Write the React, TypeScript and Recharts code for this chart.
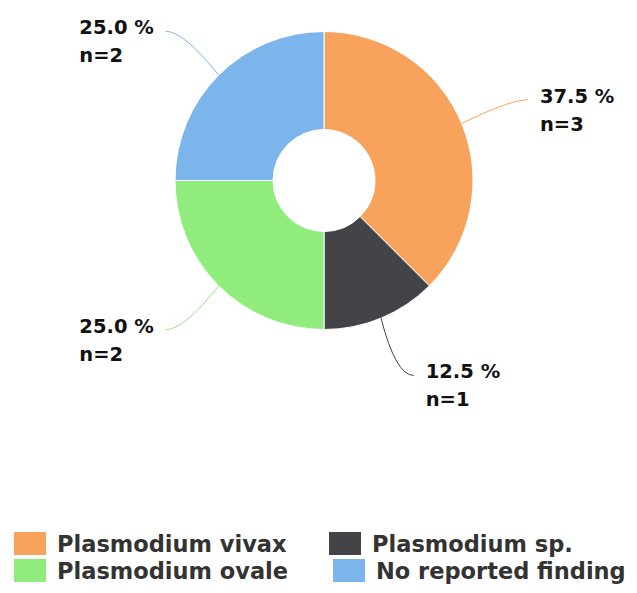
import React from "react";
import { PieChart, Pie, Cell, Legend } from "recharts";

const species = [
  "Plasmodium vivax",
  "Plasmodium sp.",
  "Plasmodium ovale",
  "No reported finding",
];
const counts = [3, 1, 2, 2];
const colors = ["#F7A35C", "#434348", "#90ED7D", "#7CB5EC"];

const data = species.map((name, i) => ({ name, value: counts[i] }));

const FONT = "'DejaVu Sans', Verdana, sans-serif";
const RAD = Math.PI / 180;
const LABEL_SIZE = 19.5;

// rough DejaVu Sans Bold advance widths (em) for the label glyphs
const glyphW: Record<string, number> = {
  ".": 0.38,
  " ": 0.348,
  "%": 1.002,
  n: 0.712,
  "=": 0.838,
};
const textWidth = (t: string) =>
  t.split("").reduce((w, ch) => w + (glyphW[ch] ?? 0.696), 0) * LABEL_SIZE;

// outside label with a curved connector, placed like the original
const renderLabel = (props: any) => {
  const { cx, cy, midAngle, outerRadius, percent, value, index } = props;
  const c = Math.cos(midAngle * RAD);
  const s = Math.sin(midAngle * RAD);
  const sign = c >= 0 ? 1 : -1;
  const x0 = cx + outerRadius * c;
  const y0 = cy - outerRadius * s;
  const R = outerRadius + 62;
  const ex = cx + R * c + sign * 9;
  const ey = cy - R * s;
  const line1 = `${(percent * 100).toFixed(1)} %`;
  const line2 = `n=${value}`;
  const boxW = Math.max(textWidth(line1), textWidth(line2));
  // lines are left aligned inside the label box
  const tx = sign > 0 ? ex + 12 : ex - 12 - boxW;
  const color = colors[index % colors.length];
  return (
    <g>
      <path
        d={`M${x0},${y0} Q${ex - sign * 18},${ey} ${ex},${ey}`}
        stroke={color}
        strokeWidth={1}
        fill="none"
      />
      <text
        x={tx}
        y={ey + 3}
        textAnchor="start"
        fontFamily={FONT}
        fontWeight="bold"
        fontSize={LABEL_SIZE}
        fill="#111"
      >
        <tspan x={tx}>{line1}</tspan>
        <tspan x={tx} dy={28}>
          {line2}
        </tspan>
      </text>
    </g>
  );
};

const renderLegend = () => (
  <svg width={637} height={73}>
    {species.map((name, i) => {
      const col = i % 2;
      const row = Math.floor(i / 2);
      const x = col === 0 ? 14 : 329 + row * 4;
      const y = 12 + row * 27;
      return (
        <g key={name}>
          <rect x={x} y={y} width={32} height={23} fill={colors[i]} />
          <text
            x={x + 43}
            y={y + 20}
            fontFamily={FONT}
            fontWeight="bold"
            fontSize={22.5}
            fill="#333333"
          >
            {name}
          </text>
        </g>
      );
    })}
  </svg>
);

export default function App() {
  return (
    <div style={{ position: "absolute", left: 0, top: 0, background: "#fff" }}>
      <PieChart width={637} height={593}>
        <Pie
          data={data}
          dataKey="value"
          nameKey="name"
          cx={319}
          cy={175.5}
          innerRadius={51}
          outerRadius={149}
          startAngle={90}
          endAngle={-270}
          stroke="#ffffff"
          strokeWidth={1}
          label={renderLabel}
          labelLine={false}
          isAnimationActive={false}
        >
          {data.map((d, i) => (
            <Cell key={d.name} fill={colors[i]} />
          ))}
        </Pie>
        <Legend
          content={renderLegend}
          wrapperStyle={{ position: "absolute", left: 0, top: 520, width: 637, height: 73 }}
        />
      </PieChart>
    </div>
  );
}
